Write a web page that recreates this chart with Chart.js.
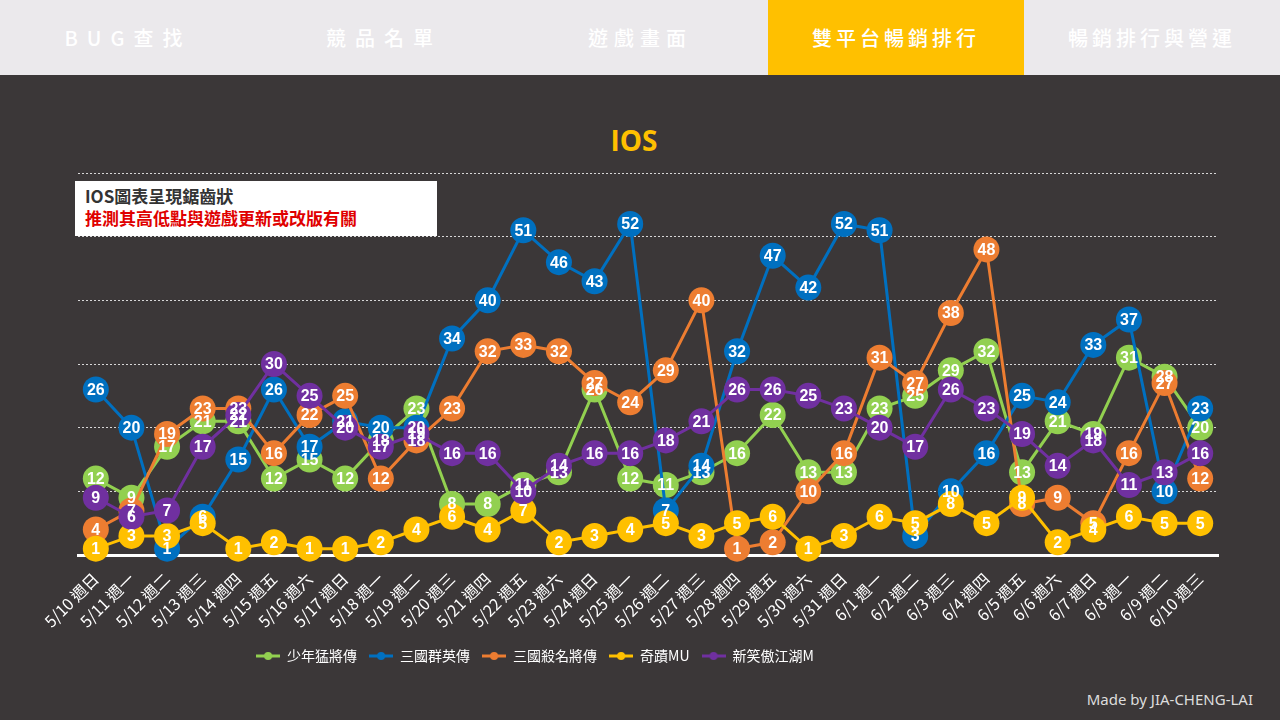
<!DOCTYPE html>
<html>
<head>
<meta charset="utf-8">
<script src="https://cdn.jsdelivr.net/npm/chart.js@4.4.1/dist/chart.umd.min.js"></script>
<style>
  html, body { margin: 0; padding: 0; }
  body { width: 1280px; height: 720px; background: #3b3738; position: relative; overflow: hidden;
         font-family: "Noto Sans CJK TC", "Noto Sans", sans-serif; }
  .nav { position: absolute; left: 0; top: 0; width: 1280px; height: 75px; background: #ebe9ec; display: flex; }
  .nav div { width: 256px; height: 75px; line-height: 75px; text-align: center; color: #fff;
             font-size: 20px; font-weight: 500; }
  .nav .wide { letter-spacing: 9px; }
  .nav .mid { letter-spacing: 6px; }
  .nav .tight { letter-spacing: 4px; }
  .nav .on { background: #ffc000; }
  .title { position: absolute; left: 0; width: 1268px; top: 120px; text-align: center; color: #ffc000;
           font-family: "Open Sans", "Noto Sans", sans-serif; font-weight: 700; font-size: 28px; line-height: 40px; }
  .note { position: absolute; left: 75px; top: 181px; width: 362px; height: 55px; background: #fff;
          box-sizing: border-box; padding: 4px 0 0 10px; font-size: 17px; line-height: 22px; font-weight: 700; }
  .note .l1 { color: #333; }
  .note .l2 { color: #e00000; }
  .wrap { position: absolute; left: 0; top: 160px; width: 1280px; height: 513px; }
  .foot { position: absolute; right: 27px; top: 689px; color: #ddd; font-size: 15px;
          font-family: "Noto Sans", sans-serif; }
</style>
</head>
<body>
<div class="nav">
  <div class="wide">BUG查找</div>
  <div class="wide">競品名單</div>
  <div class="mid">遊戲畫面</div>
  <div class="tight on">雙平台暢銷排行</div>
  <div class="tight">暢銷排行與營運</div>
</div>
<div class="title">IOS</div>
<div class="wrap"><canvas id="chart"></canvas></div>
<div class="note"><div class="l1">IOS圖表呈現鋸齒狀</div><div class="l2">推測其高低點與遊戲更新或改版有關</div></div>
<div class="foot">Made by JIA-CHENG-LAI</div>
<script>
const dates = ['5/10 週日', '5/11 週一', '5/12 週二', '5/13 週三', '5/14 週四', '5/15 週五', '5/16 週六',
  '5/17 週日', '5/18 週一', '5/19 週二', '5/20 週三', '5/21 週四', '5/22 週五', '5/23 週六', '5/24 週日',
  '5/25 週一', '5/26 週二', '5/27 週三', '5/28 週四', '5/29 週五', '5/30 週六', '5/31 週日', '6/1 週一',
  '6/2 週二', '6/3 週三', '6/4 週四', '6/5 週五', '6/6 週六', '6/7 週日', '6/8 週一', '6/9 週二', '6/10 週三'];

const shaonian = [12, 9, 17, 21, 21, 12, 15, 12, 18, 23, 8, 8, 11, 13, 26, 12, 11, 13, 16, 22, 13, 13, 23, 25, 29, 32, 13, 21, 19, 31, 28, 20];
const qunying = [26, 20, 1, 6, 15, 26, 17, 21, 20, 20, 34, 40, 51, 46, 43, 52, 7, 14, 32, 47, 42, 52, 51, 3, 10, 16, 25, 24, 33, 37, 10, 23];
const shaming = [4, 7, 19, 23, 23, 16, 22, 25, 12, 18, 23, 32, 33, 32, 27, 24, 29, 40, 1, 2, 10, 16, 31, 27, 38, 48, 8, 9, 5, 16, 27, 12];
const mu = [1, 3, 3, 5, 1, 2, 1, 1, 2, 4, 6, 4, 7, 2, 3, 4, 5, 3, 5, 6, 1, 3, 6, 5, 8, 5, 9, 2, 4, 6, 5, 5];
const xiaoao = [9, 6, 7, 17, 22, 30, 25, 20, 17, 19, 16, 16, 10, 14, 16, 16, 18, 21, 26, 26, 25, 23, 20, 17, 26, 23, 19, 14, 18, 11, 13, 16];

const names = ['少年猛將傳', '三國群英傳', '三國殺名將傳', '奇蹟MU', '新笑傲江湖M'];
const colors = ['#92d050', '#0070c0', '#ed7d31', '#ffc000', '#7030a0'];
const seriesList = [shaonian, qunying, shaming, mu, xiaoao];

// legend marker: short line with a dot in the middle
function legendMark(color) {
  const c = document.createElement('canvas');
  c.width = 24; c.height = 10;
  const g = c.getContext('2d');
  g.strokeStyle = color; g.lineWidth = 3;
  g.beginPath(); g.moveTo(0, 5); g.lineTo(24, 5); g.stroke();
  g.fillStyle = color;
  g.beginPath(); g.arc(12, 5, 4, 0, Math.PI * 2); g.fill();
  return c;
}
const marks = colors.map(legendMark);

// values are written on top of every marker, after all series are drawn
const pointLabels = {
  id: 'pointLabels',
  afterDatasetsDraw(chart) {
    const ctx = chart.ctx;
    ctx.save();
    ctx.font = 'bold 16px Arial, "Liberation Sans", sans-serif';
    ctx.fillStyle = '#fff';
    ctx.textAlign = 'center';
    ctx.textBaseline = 'middle';
    chart.data.datasets.forEach((ds, d) => {
      chart.getDatasetMeta(d).data.forEach((pt, i) => ctx.fillText(ds.data[i], pt.x, pt.y + 1));
    });
    ctx.restore();
  }
};

// the legend in the picture sits left of centre
const legendShift = {
  id: 'legendShift',
  afterLayout(chart) {
    chart.legend.left -= 113;
    chart.legend.right -= 113;
  }
};

new Chart(document.getElementById('chart'), {
  type: 'line',
  data: {
    labels: dates,
    datasets: seriesList.map((s, i) => ({
      label: names[i],
      data: s,
      borderColor: colors[i],
      backgroundColor: colors[i],
      borderWidth: 3,
      pointRadius: 13,
      pointHoverRadius: 13,
      pointBorderWidth: 0,
      tension: 0,
      clip: false,
      order: 5 - i
    }))
  },
  options: {
    responsive: true,
    maintainAspectRatio: false,
    animation: false,
    layout: { padding: { left: 78, right: 62, top: 13, bottom: 0 } },
    scales: {
      x: {
        offset: true,
        grid: { display: false },
        border: { display: true, color: '#ffffff', width: 3 },
        ticks: {
          color: '#ffffff',
          font: { family: '"Noto Sans CJK TC", sans-serif', size: 16 },
          minRotation: 45, maxRotation: 45, autoSkip: false, padding: 6
        },
        afterFit(s) { s.height = 82; }
      },
      y: {
        min: 0, max: 60,
        ticks: { display: false, stepSize: 10 },
        border: { display: false, dash: [2, 2] },
        grid: { color: 'rgba(255,255,255,0.8)', lineWidth: 1, drawTicks: false },
        afterFit(s) { s.width = 0; }
      }
    },
    plugins: {
      tooltip: { enabled: false },
      legend: {
        position: 'bottom',
        labels: {
          color: '#ffffff',
          font: { family: '"Noto Sans CJK TC", sans-serif', size: 14 },
          usePointStyle: true,
          pointStyleWidth: 24,
          padding: 12,
          sort: (a, b) => a.datasetIndex - b.datasetIndex,
          generateLabels(chart) {
            return chart.data.datasets.map((d, i) => ({
              text: d.label,
              fontColor: '#ffffff',
              pointStyle: marks[i],
              strokeStyle: colors[i],
              fillStyle: colors[i],
              lineWidth: 0,
              datasetIndex: i,
              hidden: false
            }));
          }
        }
      }
    }
  },
  plugins: [pointLabels, legendShift]
});
</script>
</body>
</html>
